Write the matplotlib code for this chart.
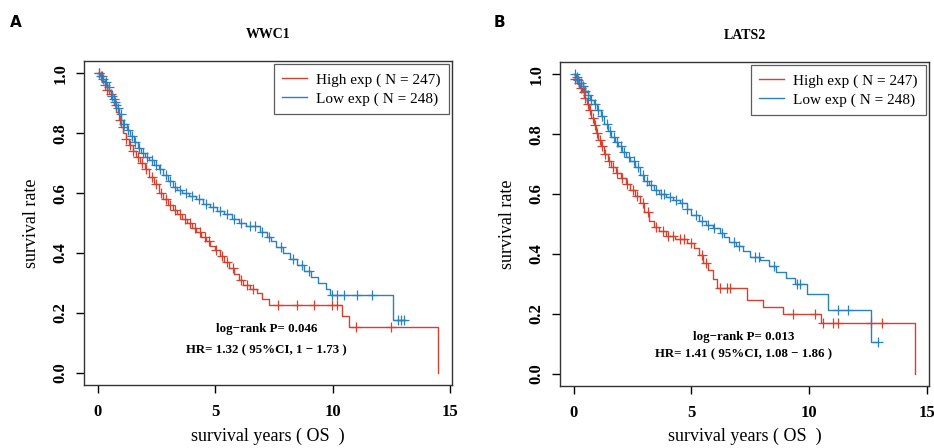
import numpy as np
import matplotlib
matplotlib.use("Agg")
import matplotlib.pyplot as plt

plt.rcParams['font.family'] = ['Liberation Serif', 'DejaVu Serif']

RED = '#d4412e'
BLUE = '#2a80c0'

# ---- panel A: WWC1 ----
a_high_t = [0, 0.1, 0.2, 0.3, 0.4, 0.5, 0.6, 0.7, 0.8, 0.9, 1.0, 1.1, 1.2, 1.35, 1.5, 1.65,
            1.8, 2.0, 2.2, 2.4, 2.6, 2.8, 3.0, 3.2, 3.4, 3.6, 3.8, 4.0, 4.2, 4.4, 4.6, 4.8,
            5.0, 5.2, 5.4, 5.6, 5.8, 6.0, 6.2, 6.5, 6.8, 7.0, 7.3, 10.4, 10.7, 14.47]
a_high_s = [1.0, 0.99, 0.975, 0.96, 0.945, 0.93, 0.915, 0.895, 0.87, 0.845, 0.82, 0.80, 0.78,
            0.76, 0.74, 0.72, 0.70, 0.68, 0.655, 0.63, 0.60, 0.58, 0.56, 0.545, 0.53, 0.515,
            0.50, 0.485, 0.47, 0.455, 0.44, 0.425, 0.41, 0.39, 0.37, 0.35, 0.33, 0.31, 0.295,
            0.28, 0.265, 0.245, 0.225, 0.19, 0.153, 0.0]
a_high_cens = [0.08, 0.18, 0.3, 0.42, 0.55, 0.68, 0.78, 0.95, 1.08, 1.22, 1.38, 1.52, 1.7, 1.88,
               2.05, 2.3, 2.5, 2.7, 2.9, 3.1, 3.3, 3.5, 3.7, 3.95, 4.15, 4.35, 4.55, 4.75, 5.05,
               5.3, 5.5, 5.75, 6.1, 6.35, 6.6, 7.66, 8.47, 9.23, 9.96, 10.17, 11.0, 12.5]

a_low_t = [0, 0.1, 0.2, 0.3, 0.4, 0.5, 0.6, 0.7, 0.8, 0.9, 1.0, 1.1, 1.25, 1.4, 1.55, 1.7, 1.85,
           2.0, 2.2, 2.4, 2.6, 2.8, 3.0, 3.2, 3.4, 3.6, 3.9, 4.2, 4.5, 4.8, 5.1, 5.4, 5.7, 6.0,
           6.3, 6.9, 7.2, 7.4, 7.6, 7.9, 8.2, 8.5, 8.8, 9.1, 9.4, 9.7, 9.9, 12.55, 13.1]
a_low_s = [1.0, 0.99, 0.98, 0.97, 0.955, 0.94, 0.925, 0.905, 0.885, 0.865, 0.845, 0.83, 0.81,
           0.79, 0.77, 0.75, 0.735, 0.72, 0.71, 0.695, 0.68, 0.66, 0.64, 0.62, 0.61, 0.60,
           0.59, 0.58, 0.565, 0.555, 0.54, 0.53, 0.515, 0.50, 0.49, 0.47, 0.455, 0.44, 0.42,
           0.40, 0.38, 0.36, 0.34, 0.32, 0.30, 0.28, 0.26, 0.177, 0.177]
a_low_cens = [0.05, 0.15, 0.25, 0.35, 0.48, 0.6, 0.72, 0.85, 0.98, 1.12, 1.3, 1.45, 1.6, 1.78,
              1.95, 2.1, 2.3, 2.5, 2.65, 2.9, 3.1, 3.3, 3.5, 3.75, 4.0, 4.3, 4.6, 4.9, 5.2, 5.5,
              5.8, 6.1, 6.5, 6.7, 7.0, 7.3, 7.8, 8.3, 8.7, 9.0, 9.96, 10.2, 10.5, 11.06, 11.66,
              12.8, 12.9, 13.05]

# ---- panel B: LATS2 ----
b_high_t = [0, 0.05, 0.15, 0.25, 0.35, 0.45, 0.55, 0.65, 0.75, 0.85, 0.95, 1.05, 1.15, 1.3,
            1.45, 1.6, 1.8, 2.0, 2.2, 2.4, 2.6, 2.8, 3.0, 3.2, 3.4, 3.6, 3.9, 4.3, 4.8, 5.1,
            5.3, 5.5, 5.7, 5.9, 6.1, 7.35, 8.05, 8.9, 10.5, 14.5]
b_high_s = [1.0, 0.985, 0.97, 0.955, 0.94, 0.92, 0.90, 0.88, 0.855, 0.83, 0.805, 0.78, 0.76,
            0.735, 0.71, 0.69, 0.67, 0.655, 0.635, 0.615, 0.595, 0.57, 0.54, 0.51, 0.49, 0.475,
            0.46, 0.45, 0.435, 0.42, 0.395, 0.37, 0.345, 0.315, 0.285, 0.245, 0.224, 0.20,
            0.17, 0.0]
b_high_cens = [0.05, 0.12, 0.22, 0.32, 0.42, 0.5, 0.6, 0.7, 0.8, 0.9, 1.0, 1.1, 1.22, 1.35,
               1.5, 1.65, 1.85, 2.05, 2.25, 2.5, 2.7, 2.95, 3.15, 3.5, 3.8, 4.0, 4.2, 4.5, 4.7,
               5.0, 5.45, 5.6, 6.2, 6.5, 6.65, 9.3, 10.25, 10.6, 11.0, 11.2, 12.6, 13.1]

b_low_t = [0, 0.1, 0.2, 0.3, 0.4, 0.5, 0.6, 0.7, 0.85, 1.0, 1.15, 1.3, 1.45, 1.6, 1.75, 1.9,
           2.05, 2.2, 2.4, 2.6, 2.8, 3.0, 3.2, 3.4, 3.6, 3.9, 4.2, 4.5, 4.8, 5.0, 5.3, 5.6,
           5.9, 6.2, 6.4, 6.6, 6.9, 7.2, 7.5, 7.9, 8.3, 8.6, 9.0, 9.4, 9.9, 10.8, 12.6, 12.9]
b_low_s = [1.0, 0.99, 0.98, 0.97, 0.96, 0.945, 0.93, 0.915, 0.90, 0.88, 0.86, 0.835, 0.81,
           0.79, 0.775, 0.76, 0.74, 0.725, 0.71, 0.69, 0.665, 0.645, 0.63, 0.615, 0.60, 0.59,
           0.58, 0.57, 0.55, 0.53, 0.51, 0.495, 0.485, 0.47, 0.455, 0.44, 0.425, 0.41, 0.39,
           0.38, 0.36, 0.34, 0.32, 0.30, 0.265, 0.214, 0.107, 0.107]
b_low_cens = [0.05, 0.12, 0.2, 0.3, 0.4, 0.5, 0.62, 0.75, 0.9, 1.05, 1.2, 1.4, 1.55, 1.7, 1.85,
              2.0, 2.15, 2.35, 2.55, 2.75, 2.95, 3.1, 3.3, 3.5, 3.7, 3.85, 4.1, 4.35, 4.6, 4.8,
              5.2, 5.45, 5.7, 5.95, 6.3, 6.8, 7.0, 7.7, 7.85, 8.5, 9.5, 9.6, 11.2, 11.65, 12.9]

panels = [
    dict(tag='A', title='WWC1', rect=[0.0899, 0.141, 0.394, 0.722],
         high=(a_high_t, a_high_s, a_high_cens), low=(a_low_t, a_low_s, a_low_cens),
         n_high=247, n_low=248, p='0.046', hr='1.32 ( 95%CI, 1 \u2212 1.73 )',
         txt_y=(0.145, 0.075)),
    dict(tag='B', title='LATS2', rect=[0.5996, 0.139, 0.395, 0.722],
         high=(b_high_t, b_high_s, b_high_cens), low=(b_low_t, b_low_s, b_low_cens),
         n_high=247, n_low=248, p='0.013', hr='1.41 ( 95%CI, 1.08 \u2212 1.86 )',
         txt_y=(0.122, 0.066)),
]

fig = plt.figure(figsize=(9.34, 4.48), dpi=100)


def draw_km(ax, t, s, cens, color, label):
    t = np.array(t)
    s = np.array(s)
    ax.step(t, s, where='post', color=color, lw=1.0, label=label)
    c = np.array(cens)
    idx = np.searchsorted(t, c, side='right') - 1
    ax.plot(c, s[idx], ls='none', marker='+', ms=6.5, mew=0.9, color=color)


for p in panels:
    ax = fig.add_axes(p['rect'])
    th, sh, ch = p['high']
    tl, sl, cl = p['low']
    draw_km(ax, th, sh, ch, RED, f"High exp ( N = {p['n_high']})")
    draw_km(ax, tl, sl, cl, BLUE, f"Low exp ( N = {p['n_low']})")

    ax.set_xlim(-0.58, 15.08)
    ax.set_ylim(-0.04, 1.04)
    ax.set_xticks([0, 5, 10, 15])
    ax.set_yticks([0.0, 0.2, 0.4, 0.6, 0.8, 1.0])
    ax.set_yticklabels(['0.0', '0.2', '0.4', '0.6', '0.8', '1.0'], rotation=90, va='center')
    ax.tick_params(direction='out', length=6, width=1, labelsize=12, pad=5)
    ax.tick_params(axis='x', pad=8)
    for lab in ax.get_xticklabels() + ax.get_yticklabels():
        lab.set_fontweight('bold')
    for sp in ax.spines.values():
        sp.set_linewidth(1.0)
        sp.set_color('#333333')

    ax.set_xlabel('survival years ( OS  )', fontsize=13, labelpad=5)
    ax.set_ylabel('survival rate', fontsize=13, labelpad=9)
    ax.set_title(p['title'], fontsize=10, fontweight='bold', pad=17)

    leg = ax.legend(loc='upper right', fontsize=11, frameon=True, fancybox=False,
                    handlelength=1.6, borderaxespad=0.2, labelspacing=0.35,
                    borderpad=0.55, handletextpad=0.6)
    leg.get_frame().set_edgecolor('#333333')
    leg.get_frame().set_linewidth(0.9)

    ax.text(7.2, p['txt_y'][0], f"log\u2212rank P= {p['p']}", ha='center', va='center',
            fontsize=9.3, fontweight='bold')
    ax.text(7.2, p['txt_y'][1], f"HR= {p['hr']}", ha='center', va='center',
            fontsize=9.3, fontweight='bold')

fig.text(0.011, 0.95, 'A', fontsize=11, fontweight='bold', family='DejaVu Sans', va='center')
fig.text(0.529, 0.95, 'B', fontsize=11, fontweight='bold', family='DejaVu Sans', va='center')

fig.savefig('out.png', dpi=100)
